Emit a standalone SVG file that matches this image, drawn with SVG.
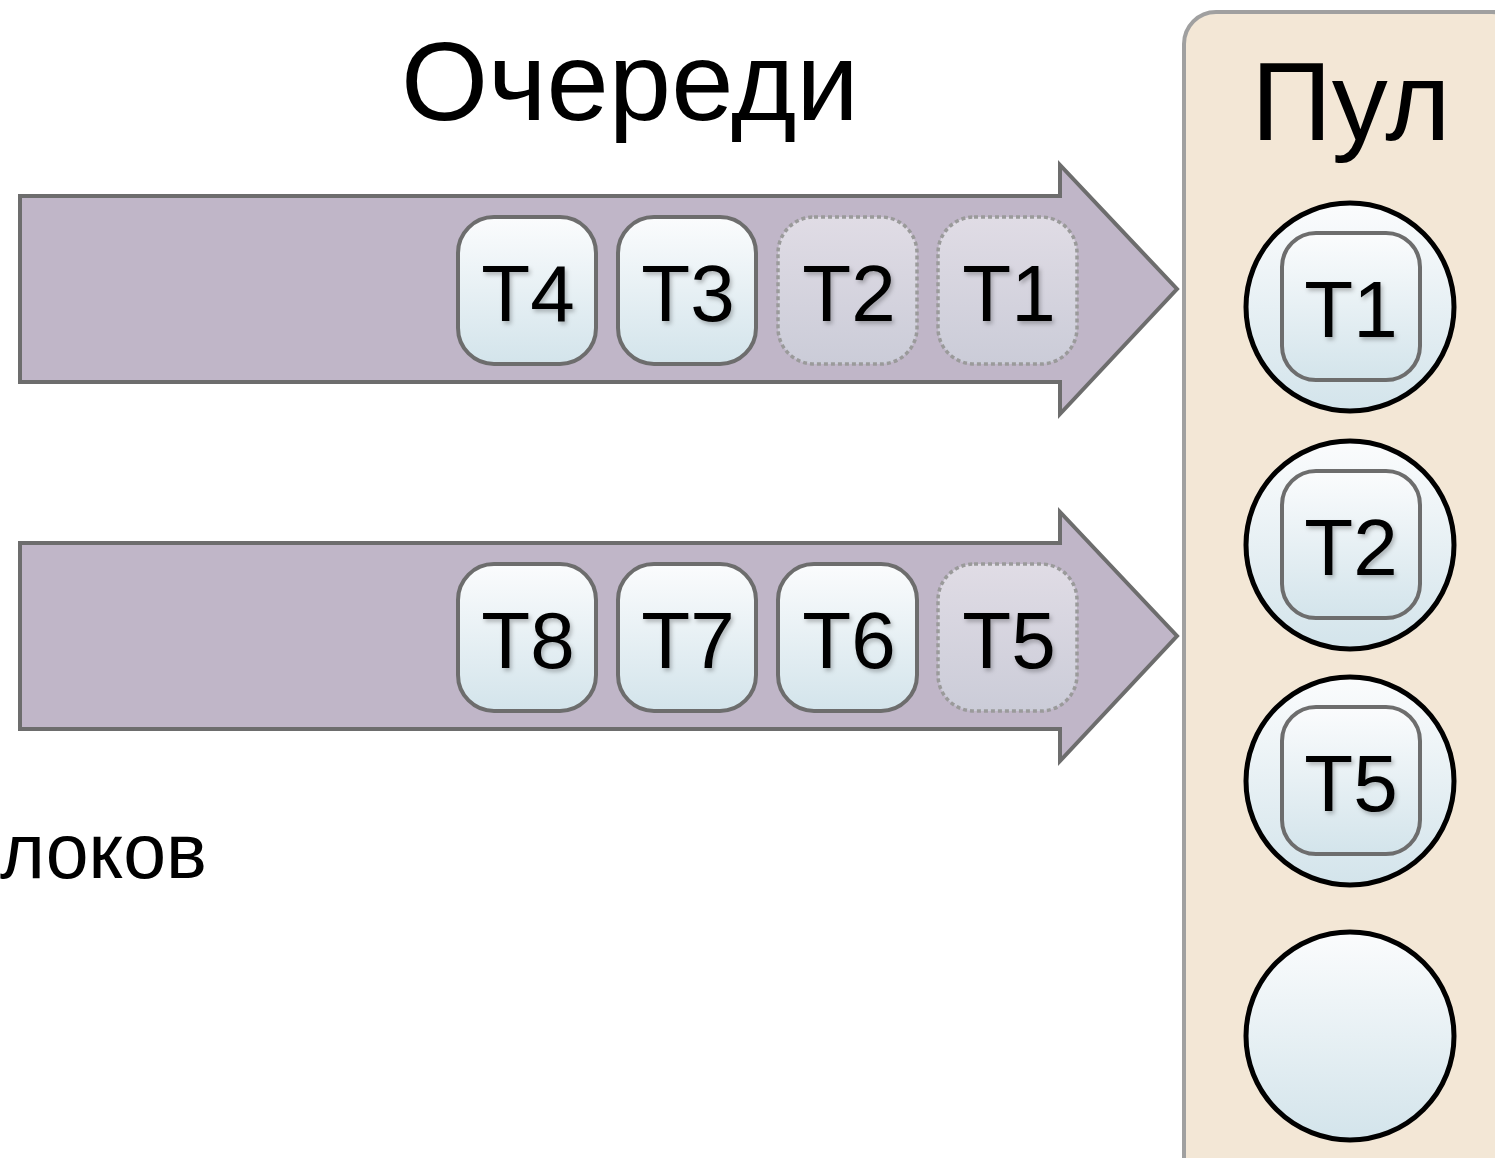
<svg xmlns="http://www.w3.org/2000/svg" width="1495" height="1158" viewBox="0 0 1495 1158">
<defs>
<linearGradient id="gTask" x1="0" y1="0" x2="0" y2="1">
<stop offset="0" stop-color="#fbfcfd"/><stop offset="1" stop-color="#d3e4eb"/>
</linearGradient>
<linearGradient id="gGhost" x1="0" y1="0" x2="0" y2="1">
<stop offset="0" stop-color="#e0dce5"/><stop offset="1" stop-color="#cbccd8"/>
</linearGradient>
<filter id="sh" x="-20%" y="-20%" width="140%" height="140%">
<feDropShadow dx="2" dy="3" stdDeviation="2" flood-color="#000" flood-opacity="0.25"/>
</filter>
</defs>
<style>
.arrow{fill:#c0b6c8;stroke:#6d6d6d;stroke-width:4;stroke-linejoin:miter}
.task{fill:url(#gTask);stroke:#6d6d6d;stroke-width:4}
.ghost{fill:url(#gGhost);stroke:#9a9a9a;stroke-width:3.5;stroke-dasharray:4 3}
.slot{fill:url(#gTask);stroke:#000;stroke-width:5}
.tl{font-family:"Liberation Sans",Arial,sans-serif;font-size:80px;fill:#000;text-anchor:middle;filter:url(#sh)}
.big{font-family:"Liberation Sans",Arial,sans-serif;font-size:112px;fill:#000;text-anchor:middle}
</style>
<rect width="1495" height="1158" fill="#fff"/>
<g id="pool">
<rect x="1184" y="12" width="340" height="1180" rx="32" fill="#f3e7d6" stroke="#a0a0a0" stroke-width="4"/>
<text class="big" x="1351" y="140">Пул</text>
</g>
<text id="title" class="big" x="630" y="120">Очереди</text>
<text id="side" x="0" y="878" font-family="Liberation Sans, Arial, sans-serif" font-size="77" fill="#000">локов</text>
<g id="connectors">
<path id="queue1" class="arrow" d="M20,196 H1060 V165 L1177,289 L1060,414 V382 H20 Z"/>
<path id="queue2" class="arrow" d="M20,543 H1060 V512 L1177,636 L1060,761 V729 H20 Z"/>
</g>
<g id="q1-T4"><rect class="task" x="458" y="217" width="138" height="147" rx="36"/><text class="tl" x="528" y="321">T4</text></g>
<g id="q1-T3"><rect class="task" x="618" y="217" width="138" height="147" rx="36"/><text class="tl" x="688" y="321">T3</text></g>
<g id="q1-T2"><rect class="ghost" x="778" y="217" width="139" height="147" rx="36"/><text class="tl" x="849" y="321">T2</text></g>
<g id="q1-T1"><rect class="ghost" x="938" y="217" width="139" height="147" rx="36"/><text class="tl" x="1009" y="321">T1</text></g>
<g id="q2-T8"><rect class="task" x="458" y="564" width="138" height="147" rx="36"/><text class="tl" x="528" y="668">T8</text></g>
<g id="q2-T7"><rect class="task" x="618" y="564" width="138" height="147" rx="36"/><text class="tl" x="688" y="668">T7</text></g>
<g id="q2-T6"><rect class="task" x="778" y="564" width="139" height="147" rx="36"/><text class="tl" x="849" y="668">T6</text></g>
<g id="q2-T5"><rect class="ghost" x="938" y="564" width="139" height="147" rx="36"/><text class="tl" x="1009" y="668">T5</text></g>
<g id="slot1"><circle class="slot" cx="1350" cy="307" r="104"/><rect class="task" x="1282" y="233" width="138" height="147" rx="34"/><text class="tl" x="1351" y="337">T1</text></g>
<g id="slot2"><circle class="slot" cx="1350" cy="545" r="104"/><rect class="task" x="1282" y="471" width="138" height="147" rx="34"/><text class="tl" x="1351" y="575">T2</text></g>
<g id="slot3"><circle class="slot" cx="1350" cy="781" r="104"/><rect class="task" x="1282" y="707" width="138" height="147" rx="34"/><text class="tl" x="1351" y="811">T5</text></g>
<g id="slot4"><circle class="slot" cx="1350" cy="1036" r="104"/></g>
</svg>
